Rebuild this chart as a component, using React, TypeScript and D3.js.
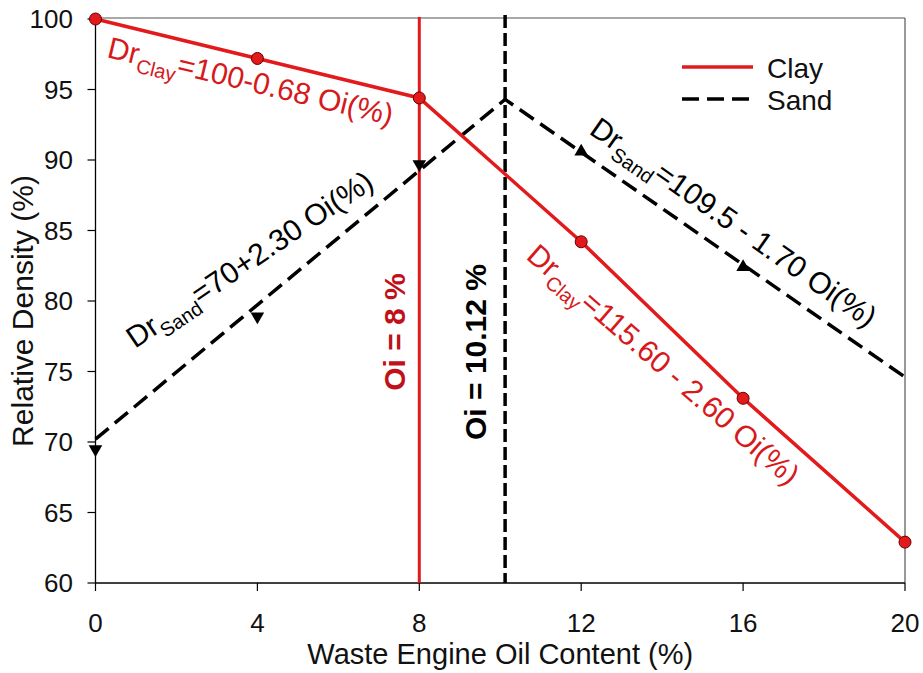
import React from "react";
import * as d3 from "d3";

const oilContent = [0, 4, 8, 12, 16, 20];
const clayDensity = [100, 97.2, 94.4, 84.2, 73.1, 62.9];
const sandLine = [
  { x: 0, y: 70.2 },
  { x: 10.12, y: 94.3 },
  { x: 20, y: 74.6 },
];
const sandMarkersX = [0, 4, 8, 12, 16];
const sandMarkersY = [69.5, 78.9, 89.7, 90.6, 82.4];
const sandMarkerDir = ["down", "down", "down", "up", "up"];
const xTicks = [0, 4, 8, 12, 16, 20];
const yTicks = [60, 65, 70, 75, 80, 85, 90, 95, 100];
const clayOptimum = 8;
const sandOptimum = 10.12;

const W = 923;
const H = 673;
const FONT = "Liberation Sans, Arial, sans-serif";
const RED = "#e31a1c";
const LABEL_RED = "#d7191c";

export default function App() {
  const x = d3.scaleLinear().domain([0, 20]).range([95.5, 905]);
  const y = d3.scaleLinear().domain([60, 100]).range([583, 19]);
  const line = d3
    .line<{ x: number; y: number }>()
    .x((d) => x(d.x))
    .y((d) => y(d.y));
  const clayPts = oilContent.map((o, i) => ({ x: o, y: clayDensity[i] }));
  const tri = d3.symbol().type(d3.symbolTriangle).size(80);

  const eq = (
    tx: number,
    ty: number,
    rot: number,
    sub: string,
    rest: string,
    color: string
  ) => (
    <text
      transform={`translate(${tx},${ty}) rotate(${rot})`}
      fill={color}
      fontFamily={FONT}
      fontSize={30}
    >
      <tspan>Dr</tspan>
      <tspan fontSize={20} dy={8}>
        {sub}
      </tspan>
      <tspan dy={-8}>{rest}</tspan>
    </text>
  );

  return (
    <svg
      width={W}
      height={H}
      style={{ position: "absolute", left: 0, top: 0, background: "#fff" }}
    >
      {/* frame */}
      <line x1={x(0)} x2={x(20)} y1={y(100) - 1} y2={y(100) - 1} stroke="#555" strokeWidth={1.2} />
      <line x1={x(20)} x2={x(20)} y1={y(100) - 1} y2={y(60)} stroke="#555" strokeWidth={1.2} />
      <line x1={x(0)} x2={x(0)} y1={y(100) - 1} y2={y(60)} stroke="#000" strokeWidth={1.3} />
      <line x1={x(0)} x2={x(20)} y1={y(60)} y2={y(60)} stroke="#000" strokeWidth={1.3} />

      {/* y ticks */}
      {yTicks.map((t) => (
        <g key={"y" + t}>
          <line x1={x(0) - 8} x2={x(0)} y1={y(t)} y2={y(t)} stroke="#000" strokeWidth={1.2} />
          <text
            x={73}
            y={y(t)}
            dy="0.36em"
            textAnchor="end"
            fontFamily={FONT}
            fontSize={26}
            fill="#111"
          >
            {t}
          </text>
        </g>
      ))}
      {/* x ticks */}
      {xTicks.map((t) => (
        <g key={"x" + t}>
          <line x1={x(t)} x2={x(t)} y1={y(60)} y2={y(60) + 8} stroke="#000" strokeWidth={1.2} />
          <text
            x={x(t)}
            y={632}
            textAnchor="middle"
            fontFamily={FONT}
            fontSize={26}
            fill="#111"
          >
            {t}
          </text>
        </g>
      ))}

      {/* axis titles */}
      <text
        x={(x(0) + x(20)) / 2}
        y={664}
        textAnchor="middle"
        fontFamily={FONT}
        fontSize={29}
        fill="#111"
      >
        Waste Engine Oil Content (%)
      </text>
      <text
        transform={`translate(33,311) rotate(-90)`}
        textAnchor="middle"
        fontFamily={FONT}
        fontSize={30}
        fill="#111"
      >
        Relative Density (%)
      </text>

      {/* vertical optimum lines */}
      <line
        x1={x(clayOptimum)}
        x2={x(clayOptimum)}
        y1={y(100) - 2}
        y2={y(60)}
        stroke={RED}
        strokeWidth={3}
      />
      <line
        x1={x(sandOptimum)}
        x2={x(sandOptimum)}
        y1={y(100) - 4}
        y2={y(60)}
        stroke="#000"
        strokeWidth={3.5}
        strokeDasharray="13,5"
      />

      {/* sand line */}
      <path d={line(sandLine) || ""} fill="none" stroke="#000" strokeWidth={3.5} strokeDasharray="17,8" />
      {sandMarkersX.map((sx, i) => (
        <path
          key={"s" + i}
          d={tri() || ""}
          transform={`translate(${x(sx)},${y(sandMarkersY[i])}) rotate(${sandMarkerDir[i] === "down" ? 180 : 0})`}
          fill="#000"
        />
      ))}

      {/* clay line */}
      <path d={line(clayPts) || ""} fill="none" stroke={RED} strokeWidth={3.5} />
      {clayPts.map((p, i) => (
        <circle
          key={"c" + i}
          cx={x(p.x)}
          cy={y(p.y)}
          r={6}
          fill={RED}
          stroke="#600"
          strokeWidth={1}
        />
      ))}

      {/* optimum labels */}
      <text
        transform={`translate(405,332) rotate(-90)`}
        textAnchor="middle"
        fontFamily={FONT}
        fontSize={30}
        fontWeight="bold"
        fill="#c0101a"
      >
        Oi = 8 %
      </text>
      <text
        transform={`translate(486,352) rotate(-90)`}
        textAnchor="middle"
        fontFamily={FONT}
        fontSize={30}
        fontWeight="bold"
        fill="#000"
      >
        Oi = 10.12 %
      </text>

      {/* equation labels */}
      {eq(106, 57, 13.5, "Clay", "=100-0.68 Oi(%)", LABEL_RED)}
      {eq(135, 349, -34, "Sand", "=70+2.30 Oi(%)", "#000")}
      {eq(588, 133, 35, "Sand", "=109.5 - 1.70 Oi(%)", "#000")}
      {eq(525, 258, 41, "Clay", "=115.60 - 2.60 Oi(%)", LABEL_RED)}

      {/* legend */}
      <line x1={682} x2={753} y1={67} y2={67} stroke={RED} strokeWidth={3.5} />
      <text x={767} y={78} fontFamily={FONT} fontSize={28} fill="#111">
        Clay
      </text>
      <line x1={682} x2={749} y1={99} y2={99} stroke="#000" strokeWidth={3.5} strokeDasharray="17,8" />
      <text x={767} y={110} fontFamily={FONT} fontSize={28} fill="#111">
        Sand
      </text>
    </svg>
  );
}
